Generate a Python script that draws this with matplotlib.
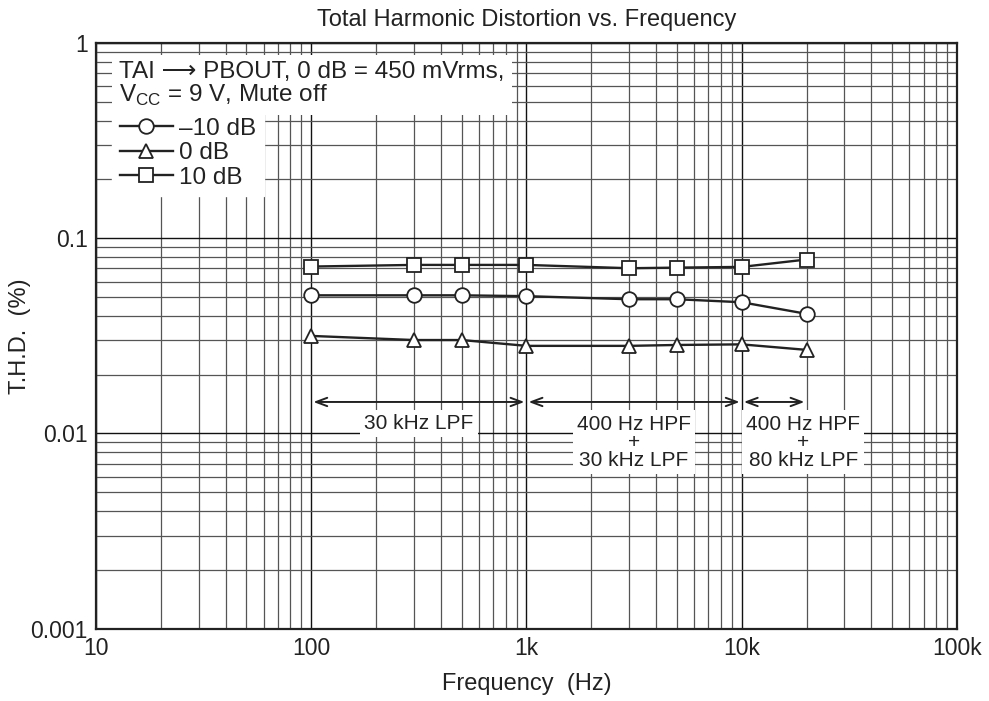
import matplotlib
matplotlib.use('Agg')
import matplotlib.pyplot as plt
from matplotlib.ticker import FixedLocator, FixedFormatter, LogLocator, NullFormatter

plt.rcParams['font.family'] = ['Liberation Sans', 'DejaVu Sans']
plt.rcParams['mathtext.fontset'] = 'custom'
plt.rcParams['mathtext.rm'] = 'Liberation Sans'

# data
freq = [100, 300, 500, 1000, 3000, 5000, 10000, 20000]
thd_m10 = [0.051, 0.051, 0.051, 0.0505, 0.0487, 0.0487, 0.047, 0.041]
thd_0 = [0.0316, 0.0301, 0.0301, 0.0281, 0.0281, 0.0284, 0.0286, 0.0268]
thd_p10 = [0.0716, 0.073, 0.073, 0.073, 0.0702, 0.0707, 0.0713, 0.0778]

x_ticks = [10, 100, 1000, 10000, 100000]
x_labels = ['10', '100', '1k', '10k', '100k']
y_ticks = [0.001, 0.01, 0.1, 1]
y_labels = ['0.001', '0.01', '0.1', '1']

fig = plt.figure(figsize=(9.89, 7.01), dpi=100)
ax = fig.add_axes([0.0971, 0.1031, 0.8705, 0.8356])
ax.set_xscale('log')
ax.set_yscale('log')
ax.set_xlim(10, 100000)
ax.set_ylim(0.001, 1)

ax.xaxis.set_major_locator(FixedLocator(x_ticks))
ax.xaxis.set_major_formatter(FixedFormatter(x_labels))
ax.yaxis.set_major_locator(FixedLocator(y_ticks))
ax.yaxis.set_major_formatter(FixedFormatter(y_labels))
ax.xaxis.set_minor_locator(LogLocator(base=10, subs=range(2, 10)))
ax.yaxis.set_minor_locator(LogLocator(base=10, subs=range(2, 10)))
ax.xaxis.set_minor_formatter(NullFormatter())
ax.yaxis.set_minor_formatter(NullFormatter())
ax.tick_params(which='both', length=0, labelsize=16.5, colors='#222')
ax.tick_params(axis='x', pad=6)
ax.tick_params(axis='y', pad=6)
ax.grid(which='major', color='#111', lw=1.0)
ax.grid(which='minor', color='#555', lw=0.9)
ax.set_axisbelow(True)
for s in ax.spines.values():
    s.set_linewidth(1.6)
    s.set_color('#222')

mk = dict(color='#222', lw=1.7, mfc='white', mec='#222', mew=1.3, zorder=4)
ax.plot(freq, thd_m10, marker='o', ms=10.5, label='–10 dB', **mk)
ax.plot(freq, thd_0, marker='^', ms=10.5, label='0 dB', **mk)
ax.plot(freq, thd_p10, marker='s', ms=10, label='10 dB', **mk)

ax.set_title('Total Harmonic Distortion vs. Frequency', fontsize=17, color='#222', pad=12)
ax.set_xlabel('Frequency  (Hz)', fontsize=17, color='#222', labelpad=9)
ax.set_ylabel('T.H.D.  (%)', fontsize=17, color='#222')
ax.yaxis.set_label_coords(-0.075, 0.5)

# header text in the upper left
ax.text(0.027, 0.97, 'TAI ⟶ PBOUT, 0 dB = 450 mVrms,\nV$_{\\mathrm{CC}}$ = 9 V, Mute off',
        transform=ax.transAxes, ha='left', va='top', fontsize=17.5, color='#222',
        linespacing=1.0, zorder=5,
        bbox=dict(fc='white', ec='none', pad=5))

leg = ax.legend(loc='upper left', bbox_to_anchor=(0.019, 0.885), fontsize=17.5,
                frameon=True, fancybox=False, framealpha=1, edgecolor='white',
                facecolor='white', handlelength=2.2, handletextpad=0.25,
                labelspacing=0.1, borderpad=0.3, borderaxespad=0)
for t in leg.get_texts():
    t.set_color('#222')
leg.set_zorder(5)

# filter range arrows
ay = 0.0145
arr = dict(arrowstyle='<->, head_length=0.8, head_width=0.3', color='#222', lw=1.4,
           shrinkA=1.5, shrinkB=1.5)
ax.annotate('', xy=(1000, ay), xytext=(100, ay), arrowprops=arr, zorder=4)
ax.annotate('', xy=(10000, ay), xytext=(1000, ay), arrowprops=arr, zorder=4)
ax.annotate('', xy=(20000, ay), xytext=(10000, ay), arrowprops=arr, zorder=4)

box = dict(fc='white', ec='none', pad=3)
ax.text(316, 0.01125, '30 kHz LPF', ha='center', va='center', fontsize=15,
        color='#222', bbox=box, zorder=5)
ax.text(3160, 0.0090, '400 Hz HPF\n+\n30 kHz LPF', ha='center', va='center',
        fontsize=15, color='#222', linespacing=0.95, bbox=box, zorder=5)
ax.text(19300, 0.0090, '400 Hz HPF\n+\n80 kHz LPF', ha='center', va='center',
        fontsize=15, color='#222', linespacing=0.95, bbox=box, zorder=5)

fig.savefig('out.png', dpi=100)
